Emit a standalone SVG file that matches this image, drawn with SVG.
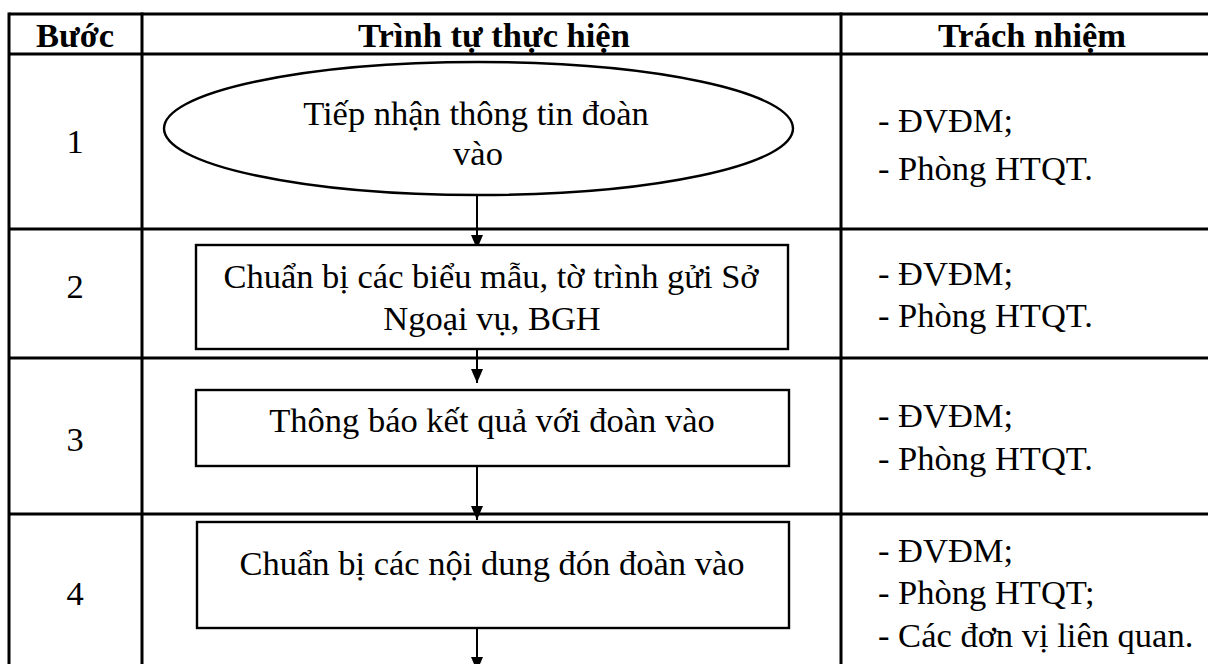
<svg xmlns="http://www.w3.org/2000/svg" width="1208" height="664" viewBox="0 0 1208 664">
<defs>
<style>
.t{font-family:"Liberation Serif","Times New Roman",serif;font-size:34.5px;fill:#000}
.h{font-weight:bold}
.m{text-anchor:middle}
.grid{stroke:#000;stroke-width:3;fill:none}
.shape{stroke:#000;stroke-width:2.4;fill:#fff}
.conn{stroke:#000;stroke-width:2;fill:none}
</style>
<marker id="arr" viewBox="0 0 14 12" refX="14" refY="6" markerWidth="14" markerHeight="12" markerUnits="userSpaceOnUse" orient="auto">
<path d="M0,0 L14,6 L0,12 Z" fill="#000"/>
</marker>
</defs>
<rect width="1208" height="664" fill="#fff"/>
<g id="table">
<line class="grid" x1="9" y1="14" x2="1208" y2="14"/>
<line class="grid" x1="9" y1="54" x2="1208" y2="54"/>
<line class="grid" x1="9" y1="229" x2="1208" y2="229"/>
<line class="grid" x1="9" y1="358" x2="1208" y2="358"/>
<line class="grid" x1="9" y1="514" x2="1208" y2="514"/>
<line class="grid" x1="9" y1="12.5" x2="9" y2="664"/>
<line class="grid" x1="142" y1="12.5" x2="142" y2="664"/>
<line class="grid" x1="841" y1="12.5" x2="841" y2="664"/>
</g>
<g id="header">
<text class="t h m" x="75" y="47">Bước</text>
<text class="t h m" x="494" y="47">Trình tự thực hiện</text>
<text class="t h m" x="1032" y="47">Trách nhiệm</text>
</g>
<g id="steps">
<text class="t m" x="75" y="153">1</text>
<text class="t m" x="75" y="298">2</text>
<text class="t m" x="75" y="451">3</text>
<text class="t m" x="75" y="605">4</text>
</g>
<g id="connectors">
<line class="conn" x1="477" y1="195" x2="477" y2="249" marker-end="url(#arr)"/>
<line class="conn" x1="477" y1="349" x2="477" y2="383" marker-end="url(#arr)"/>
<line class="conn" x1="477" y1="466" x2="477" y2="520" marker-end="url(#arr)"/>
<line class="conn" x1="477" y1="628" x2="477" y2="671" marker-end="url(#arr)"/>
</g>
<g id="node1">
<ellipse class="shape" cx="478.5" cy="128.5" rx="314.5" ry="66.5"/>
<text class="t m" x="476" y="125">Tiếp nhận thông tin đoàn</text>
<text class="t m" x="478" y="165">vào</text>
</g>
<g id="node2">
<rect class="shape" x="196" y="245" width="592" height="104"/>
<text class="t m" x="491" y="288">Chuẩn bị các biểu mẫu, tờ trình gửi Sở</text>
<text class="t m" x="492" y="330">Ngoại vụ, BGH</text>
</g>
<g id="node3">
<rect class="shape" x="196" y="390" width="593" height="76"/>
<text class="t m" x="492" y="432">Thông báo kết quả với đoàn vào</text>
</g>
<g id="node4">
<rect class="shape" x="197" y="522" width="592" height="106"/>
<text class="t m" x="492" y="575">Chuẩn bị các nội dung đón đoàn vào</text>
</g>
<g id="resp1">
<text class="t" x="878" y="132">- ĐVĐM;</text>
<text class="t" x="878" y="180">- Phòng HTQT.</text>
</g>
<g id="resp2">
<text class="t" x="878" y="285">- ĐVĐM;</text>
<text class="t" x="878" y="327">- Phòng HTQT.</text>
</g>
<g id="resp3">
<text class="t" x="878" y="427">- ĐVĐM;</text>
<text class="t" x="878" y="470">- Phòng HTQT.</text>
</g>
<g id="resp4">
<text class="t" x="878" y="562">- ĐVĐM;</text>
<text class="t" x="878" y="604">- Phòng HTQT;</text>
<text class="t" x="878" y="647">- Các đơn vị liên quan.</text>
</g>
</svg>
